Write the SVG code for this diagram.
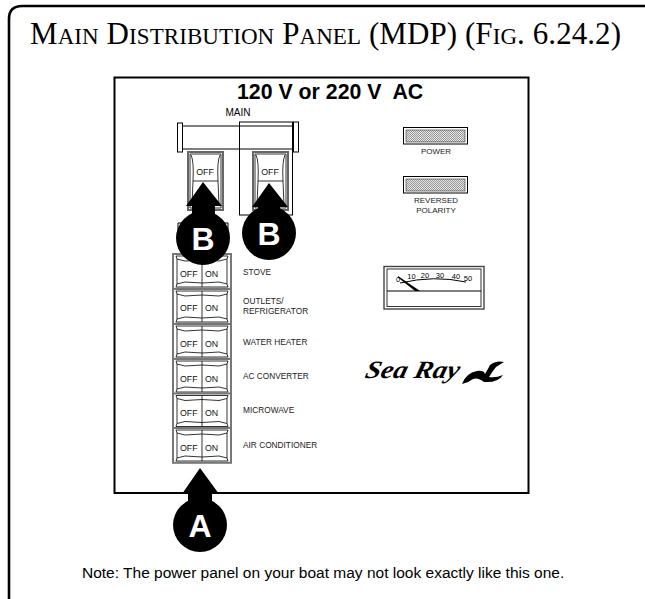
<svg xmlns="http://www.w3.org/2000/svg" width="645" height="599" viewBox="0 0 645 599">
<style>
text{font-family:"Liberation Sans",Arial,sans-serif;fill:#000}
.l{font-size:8.3px;fill:#222}
.c{font-size:8px;text-anchor:middle;fill:#222}
.s{font-size:8.8px;fill:#111}
.big{font-size:32px;font-weight:bold;fill:#fff;text-anchor:middle}
.ln{fill:none;stroke:#000;stroke-width:1}
.thin{fill:none;stroke:#000;stroke-width:.8}
.cap{fill:#fff;stroke:#000;stroke-width:1}
</style>
<defs>
<pattern id="hatch" width="2" height="2" patternUnits="userSpaceOnUse"><rect width="2" height="2" fill="#e4e4e4"/><rect width="1" height="1" fill="#999"/><rect x="1" y="1" width="1" height="1" fill="#999"/></pattern>
<g id="rocker">
<rect x="0" y="0" width="58" height="34.800" fill="#fff" stroke="#777" stroke-width="2"/>
<path class="thin" d="M3 2H55L54 5L46 7Q29 5 12 7L4 5ZM4 5V30L12 28Q29 30 46 28L54 30V5M3 33H55L54 30M3 33L4 30M29 2V33"/>
</g>
<g id="tall">
<rect x="0" y="0" width="35" height="58" fill="#fff" stroke="#666" stroke-width="2"/>
<path class="thin" d="M2 2H33V56H2ZM3 3Q6 9 5 29H30Q29 9 32 3M5 29L4 53H31L30 29"/>
</g>
</defs>
<rect width="645" height="599" fill="#fff"/>
<path id="frame" d="M9 599V19Q9 6 22 6H645" fill="none" stroke="#000" stroke-width="2.600"/>
<text id="title" x="30" y="44" font-size="31" style="font-family:'Liberation Serif',serif" textLength="591">M<tspan font-size="23">AIN</tspan> D<tspan font-size="23">ISTRIBUTION</tspan> P<tspan font-size="23">ANEL</tspan> (MDP) (F<tspan font-size="23">IG</tspan>. 6.24.2)</text>
<rect id="panel" x="114.500" y="77.500" width="414" height="415.500" fill="#fff" stroke="#000" stroke-width="2"/>
<text id="heading" x="237" y="99" font-size="21.300" font-weight="bold" xml:space="preserve">120 V or 220 V  AC</text>
<g id="main-bar">
<text x="238" y="116" font-size="10" text-anchor="middle" fill="#222">MAIN</text>
<path class="ln" d="M182 126H293M182 149H293"/>
<rect class="cap" x="177.500" y="123" width="5" height="29"/>
<rect class="cap" x="293.500" y="122" width="5" height="30"/>
<rect class="ln" x="239.500" y="122" width="53" height="93"/>
</g>
<g id="main-switch-1"><use href="#tall" x="188" y="152"/><text class="s" x="205" y="175" text-anchor="middle">OFF</text></g>
<g id="main-switch-2"><use href="#tall" x="253" y="152"/><text class="s" x="270" y="175" text-anchor="middle">OFF</text></g>
<path id="hidden-switch" class="ln" d="M178 232V223H228V232"/>
<g id="stove"><use href="#rocker" x="173" y="254"/><text class="s" x="180" y="277">OFF</text><text class="s" x="205" y="277">ON</text><text class="l" x="243" y="275">STOVE</text></g>
<g id="outlets"><use href="#rocker" x="173" y="289"/><text class="s" x="180" y="311">OFF</text><text class="s" x="205" y="311">ON</text><text class="l" x="243" y="304">OUTLETS/</text><text class="l" x="243" y="314">REFRIGERATOR</text></g>
<g id="water"><use href="#rocker" x="173" y="324"/><text class="s" x="180" y="347">OFF</text><text class="s" x="205" y="347">ON</text><text class="l" x="243" y="345">WATER HEATER</text></g>
<g id="ac"><use href="#rocker" x="173" y="359"/><text class="s" x="180" y="382">OFF</text><text class="s" x="205" y="382">ON</text><text class="l" x="243" y="379">AC CONVERTER</text></g>
<g id="micro"><use href="#rocker" x="173" y="393.500"/><text class="s" x="180" y="416">OFF</text><text class="s" x="205" y="416">ON</text><text class="l" x="243" y="413">MICROWAVE</text></g>
<g id="aircon"><use href="#rocker" x="173" y="428"/><text class="s" x="180" y="451">OFF</text><text class="s" x="205" y="451">ON</text><text class="l" x="243" y="448">AIR CONDITIONER</text></g>
<g id="power"><rect x="403.500" y="127.500" width="64" height="16.500" fill="#fff" stroke="#000"/><rect x="406" y="130" width="59" height="12" fill="url(#hatch)" stroke="#333" stroke-width=".6"/><text class="c" x="436" y="154">POWER</text></g>
<g id="reversed"><rect x="403.500" y="176.500" width="64" height="16.500" fill="#fff" stroke="#000"/><rect x="406" y="179" width="59" height="12" fill="url(#hatch)" stroke="#333" stroke-width=".6"/><text class="c" x="436" y="203">REVERSED</text><text class="c" x="436" y="213">POLARITY</text></g>
<g id="meter">
<rect x="384" y="266.500" width="100" height="42.500" fill="#fff" stroke="#444" stroke-width="1.400"/>
<rect x="387" y="269" width="94" height="37.500" fill="none" stroke="#333"/>
<path class="ln" d="M387 291H481M400 283Q434 275 466 282"/>
<path d="M398 276L420 291H415L398 277.500Z" fill="#000"/>
<g style="font-size:7.500px"><text x="398" y="282" text-anchor="middle">0</text><text x="411.500" y="279" text-anchor="middle">10</text><text x="425" y="278" text-anchor="middle">20</text><text x="440" y="278" text-anchor="middle">30</text><text x="456" y="279" text-anchor="middle">40</text><text x="468" y="281" text-anchor="middle">50</text></g>
</g>
<g id="logo">
<text transform="translate(364 378) skewX(-14)" font-size="25" font-style="italic" font-weight="bold" textLength="94" lengthAdjust="spacingAndGlyphs" style="font-family:'Liberation Serif',serif">Sea Ray</text>
<path d="M462 384Q466 373 477 371Q484 370 485 374Q488 369 490 365Q496 360 504 362L496 367Q492 372 489 377Q496 378 503 375Q498 383 484 382Q478 377 473 379Q468 383 462 384Z" fill="#000"/>
</g>
<g id="arrow-b1"><path d="M203 182L186 206H192V216H215V206H222Z" fill="#000"/><circle cx="203" cy="238" r="27" fill="#000"/><text class="big" x="203" y="250">B</text></g>
<g id="arrow-b2"><path d="M269 183L252 207H258V212H280V207H288Z" fill="#000"/><circle cx="269" cy="233" r="27" fill="#000"/><text class="big" x="269" y="245">B</text></g>
<g id="arrow-a"><path d="M200 468L182 494H188V503H212V494H219Z" fill="#000"/><circle cx="200" cy="525" r="27" fill="#000"/><text class="big" x="200" y="537">A</text></g>
<text id="note" x="82" y="578" font-size="15.500" fill="#111">Note: The power panel on your boat may not look exactly like this one.</text>
</svg>
